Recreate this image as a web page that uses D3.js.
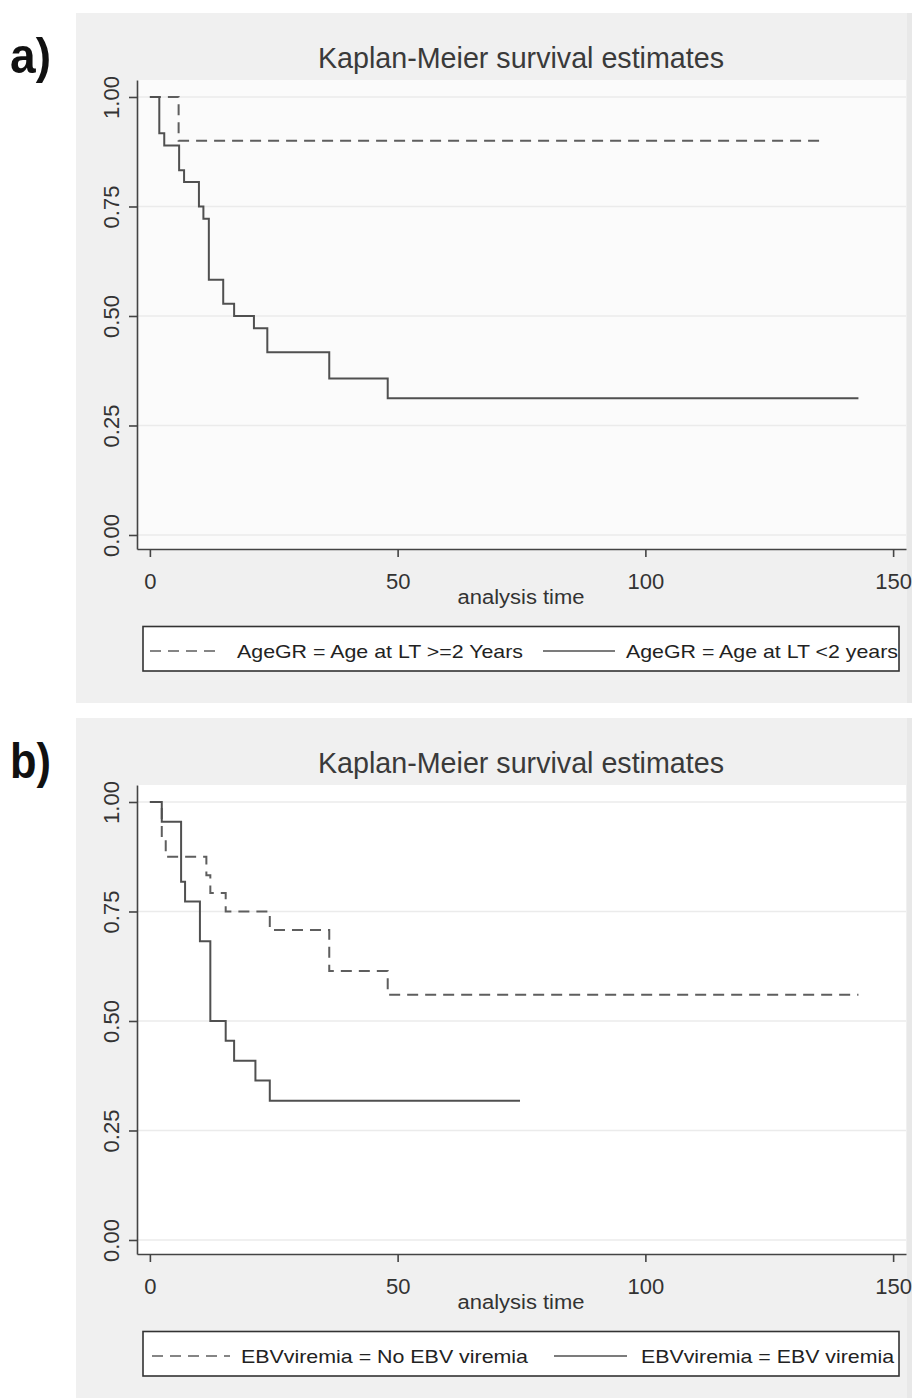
<!DOCTYPE html>
<html lang="en">
<head>
  <meta charset="UTF-8">
  <title>Kaplan-Meier survival estimates</title>
  <script src="https://d3js.org/d3.v7.min.js"></script>
  <style>
    body { margin: 0; background: #fff; }
    svg text { font-family: "Liberation Sans", Arial, sans-serif; fill: #333; }
  </style>
</head>
<body>
  <svg id="chart" width="914" height="1398"></svg>

  <script>
    // axis ticks
    const xTicks = [0, 50, 100, 150];
    const yTicks = [0, 0.25, 0.5, 0.75, 1];

    // panel a: age at liver transplant
    const olderTime = [0, 5.8];
    const olderSurv = [1, 0.9];
    const olderEnd = 136;
    const youngerTime = [0, 1.9, 2.9, 5.9, 6.9, 9.9, 10.8, 11.9, 14.8, 17, 21, 23.7, 36.2, 48];
    const youngerSurv = [1, 0.917, 0.889, 0.833, 0.806, 0.75, 0.722, 0.583, 0.528, 0.5, 0.472, 0.417, 0.357, 0.312];
    const youngerEnd = 143;

    // panel b: EBV viremia
    const noEbvTime = [0, 2.4, 3.2, 11.4, 12.2, 15.3, 24.2, 36.2, 48];
    const noEbvSurv = [1, 0.917, 0.875, 0.833, 0.792, 0.75, 0.708, 0.614, 0.56];
    const noEbvEnd = 143;
    const ebvTime = [0, 2.4, 6.3, 7.1, 10.1, 12.2, 15.3, 17, 21.3, 24.2];
    const ebvSurv = [1, 0.955, 0.818, 0.773, 0.682, 0.5, 0.455, 0.409, 0.364, 0.318];
    const ebvEnd = 74.7;

    const panels = [
      { label: "a)", top: 0, plotFill: "#fbfbfb",
        legend: ["AgeGR = Age at LT >=2 Years", "AgeGR = Age at LT <2 years"],
        dashed: [olderTime, olderSurv, olderEnd], solid: [youngerTime, youngerSurv, youngerEnd] },
      { label: "b)", top: 705, plotFill: "#ffffff",
        legend: ["EBVviremia = No EBV viremia", "EBVviremia = EBV viremia"],
        dashed: [noEbvTime, noEbvSurv, noEbvEnd], solid: [ebvTime, ebvSurv, ebvEnd] }
    ];

    const svg = d3.select("#chart");
    const x = d3.scaleLinear().domain([-2.6, 152.6]).range([137, 906]);
    const y = d3.scaleLinear().domain([-0.032, 1.0388]).range([549, 80]);

    const line = d3.line()
      .x(d => x(d[0]))
      .y(d => y(d[1]))
      .curve(d3.curveStepAfter);

    function steps(times, surv, end) {
      const pts = times.map((t, i) => [t, surv[i]]);
      pts.push([end, surv[surv.length - 1]]);
      return pts;
    }

    panels.forEach(p => {
      const g = svg.append("g").attr("transform", "translate(0," + p.top + ")");

      g.append("rect").attr("x", 76).attr("y", 13).attr("width", 836).attr("height", 690).attr("fill", "#f0f0f0");
      g.append("rect").attr("x", 907).attr("y", 13).attr("width", 5).attr("height", 690).attr("fill", "#e8e8e8");
      g.append("rect").attr("x", 137).attr("y", 80).attr("width", 769).attr("height", 469).attr("fill", p.plotFill);

      g.append("text")
        .attr("x", 10).attr("y", 0)
        .attr("transform", "translate(0,73) scale(1,1.15)")
        .attr("textLength", 41).attr("lengthAdjust", "spacingAndGlyphs")
        .style("font-weight", "bold").style("font-size", "44px").style("fill", "#111")
        .text(p.label);

      g.append("text")
        .attr("x", 521).attr("y", 68)
        .attr("text-anchor", "middle")
        .attr("textLength", 406).attr("lengthAdjust", "spacingAndGlyphs")
        .style("font-size", "29px").style("fill", "#3a3a3a")
        .text("Kaplan-Meier survival estimates");

      // grid
      g.selectAll(".grid").data(yTicks).join("line")
        .attr("x1", 137).attr("x2", 906)
        .attr("y1", d => y(d)).attr("y2", d => y(d))
        .attr("stroke", "#ebebeb").attr("stroke-width", 1.5);

      // survival curves
      g.append("path").attr("d", line(steps(...p.dashed)))
        .attr("fill", "none").attr("stroke", "#5e5e5e").attr("stroke-width", 2)
        .attr("stroke-dasharray", "11,7");
      g.append("path").attr("d", line(steps(...p.solid)))
        .attr("fill", "none").attr("stroke", "#505050").attr("stroke-width", 2);

      // axes
      const xAxis = g.append("g").attr("transform", "translate(0,549)")
        .call(d3.axisBottom(x).tickValues(xTicks).tickSize(8).tickSizeOuter(0).tickPadding(16));
      const yAxis = g.append("g").attr("transform", "translate(137,0)")
        .call(d3.axisLeft(y).tickValues(yTicks).tickFormat(d3.format(".2f")).tickSize(8).tickSizeOuter(0));

      [xAxis, yAxis].forEach(a => {
        a.selectAll("path, line").attr("stroke", "#444").attr("stroke-width", 1.6);
        a.selectAll("text").style("font-size", "22px").style("fill", "#333");
      });
      yAxis.selectAll("text")
        .attr("x", 0).attr("dy", 0)
        .attr("text-anchor", "middle")
        .attr("transform", "translate(-18.5,0) rotate(-90)");

      g.append("text")
        .attr("x", 521).attr("y", 604)
        .attr("text-anchor", "middle")
        .attr("textLength", 127).attr("lengthAdjust", "spacingAndGlyphs")
        .style("font-size", "20px")
        .text("analysis time");

      // legend
      g.append("rect").attr("x", 143).attr("y", 626.5).attr("width", 756).attr("height", 44.5)
        .attr("fill", "#fff").attr("stroke", "#333").attr("stroke-width", 1.6);
      const lg = p.top === 0
        ? { d: [150, 220], t1: [237, 286], s: [543, 615], t2: [626, 272] }
        : { d: [152, 230], t1: [241, 287], s: [554, 627], t2: [641, 253] };
      g.append("line").attr("x1", lg.d[0]).attr("x2", lg.d[1]).attr("y1", 651).attr("y2", 651)
        .attr("stroke", "#5e5e5e").attr("stroke-width", 1.7).attr("stroke-dasharray", "11,7");
      g.append("line").attr("x1", lg.s[0]).attr("x2", lg.s[1]).attr("y1", 651).attr("y2", 651)
        .attr("stroke", "#505050").attr("stroke-width", 1.7);
      g.append("text").attr("x", lg.t1[0]).attr("y", 658)
        .attr("textLength", lg.t1[1]).attr("lengthAdjust", "spacingAndGlyphs")
        .style("font-size", "19px").style("fill", "#222")
        .text(p.legend[0]);
      g.append("text").attr("x", lg.t2[0]).attr("y", 658)
        .attr("textLength", lg.t2[1]).attr("lengthAdjust", "spacingAndGlyphs")
        .style("font-size", "19px").style("fill", "#222")
        .text(p.legend[1]);
    });
  </script>
</body>
</html>
